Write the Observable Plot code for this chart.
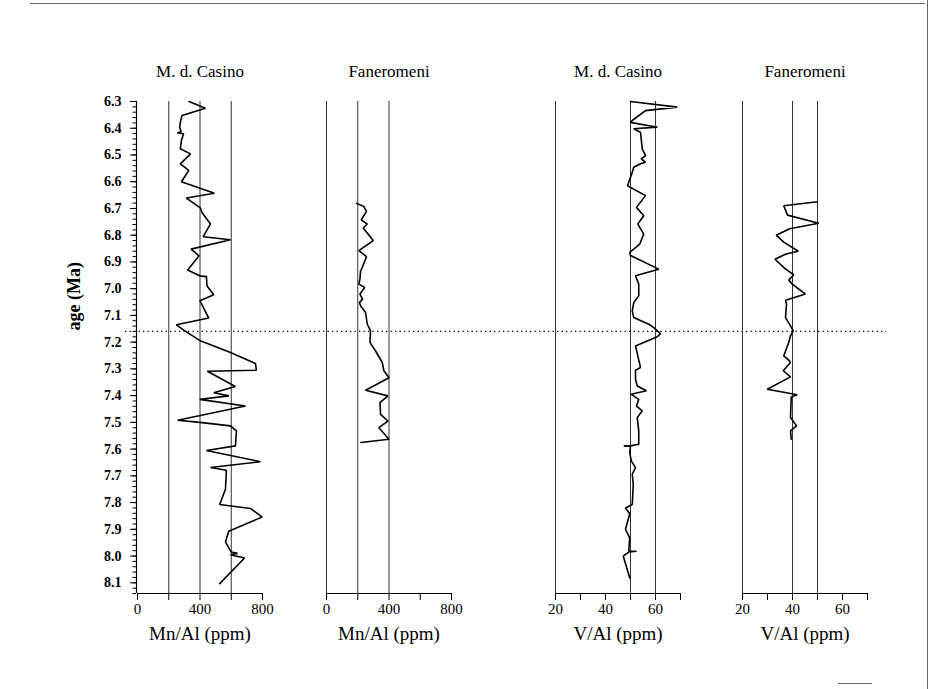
<!DOCTYPE html>
<html>
<head>
<meta charset="utf-8">
<script src="https://cdn.jsdelivr.net/npm/d3@7"></script>
<script src="https://cdn.jsdelivr.net/npm/@observablehq/plot@0.6"></script>
<style>
  body { margin: 0; background: #fff; }
  #chart { position: relative; width: 932px; height: 689px; overflow: hidden; background: #fff; }
  #chart svg { position: absolute; left: 0; top: 0; }
  #chart svg, #chart svg text { font-family: "Liberation Serif", "Times New Roman", serif !important; }
  .edge { position: absolute; background: #666; }
</style>
</head>
<body>
<div id="chart">
  <div class="edge" style="left:30px;top:3px;width:895px;height:1px;"></div>
  <div class="edge" style="left:927px;top:0;width:1px;height:689px;"></div>
  <div class="edge" style="left:838px;top:683px;width:34px;height:1px;"></div>
</div>
<script>
// ---------- data ----------
const ageDomain = [6.3, 8.14];
const ageTicks = [6.3, 6.4, 6.5, 6.6, 6.7, 6.8, 6.9, 7.0, 7.1, 7.2, 7.3, 7.4, 7.5, 7.6, 7.7, 7.8, 7.9, 8.0, 8.1];
const boundaryAge = [7.16];

const titles = ["M. d. Casino", "Faneromeni", "M. d. Casino", "Faneromeni"];
const xLabels = ["Mn/Al (ppm)", "Mn/Al (ppm)", "V/Al (ppm)", "V/Al (ppm)"];
const mnDomain = [0, 800];
const vDomain = [20, 70];
const mnTicks = [0, 200, 400, 600, 800];
const mnTickLabels = [0, 400, 800];
const vTicks = [20, 30, 40, 50, 60, 70];
const vTickLabels = [20, 40, 60];
const refLines = [[200, 400, 600], [0, 200, 400], [20, 50, 60], [20, 40, 50]];

// M. d. Casino, Mn/Al
const casinoMnAge = [6.30, 6.325, 6.352, 6.378, 6.396, 6.412, 6.418, 6.420, 6.446, 6.477, 6.496, 6.533, 6.558, 6.600, 6.643, 6.661, 6.698, 6.715, 6.758, 6.806, 6.817, 6.852, 6.877, 6.930, 6.952, 6.955, 6.990, 7.023, 7.045, 7.110, 7.135, 7.155, 7.195, 7.239, 7.280, 7.305, 7.309, 7.366, 7.389, 7.401, 7.414, 7.439, 7.492, 7.500, 7.513, 7.532, 7.588, 7.605, 7.647, 7.669, 7.679, 7.750, 7.807, 7.822, 7.854, 7.907, 7.947, 7.985, 7.990, 7.995, 8.007, 8.103];
const casinoMn =    [330, 435, 285, 274, 270, 279, 255, 295, 281, 274, 339, 274, 328, 281, 492, 313, 402, 413, 467, 420, 595, 343, 394, 321, 398, 441, 445, 488, 399, 456, 249, 296, 402, 595, 755, 761, 447, 626, 488, 585, 398, 691, 257, 398, 595, 633, 627, 441, 787, 467, 569, 563, 526, 723, 798, 584, 563, 600, 640, 595, 685, 526];

// Faneromeni, Mn/Al
const fanMnAge = [6.681, 6.693, 6.711, 6.743, 6.758, 6.773, 6.820, 6.858, 6.880, 6.920, 6.935, 6.964, 6.983, 6.995, 7.020, 7.039, 7.052, 7.064, 7.089, 7.133, 7.158, 7.201, 7.233, 7.276, 7.307, 7.333, 7.380, 7.401, 7.426, 7.470, 7.495, 7.520, 7.563, 7.575];
const fanMn =    [192, 239, 256, 222, 261, 235, 299, 207, 256, 229, 218, 214, 207, 244, 214, 231, 210, 218, 250, 261, 282, 278, 314, 357, 367, 400, 250, 393, 342, 346, 393, 335, 400, 220];

// M. d. Casino, V/Al
const casinoVAge = [6.300, 6.321, 6.334, 6.371, 6.378, 6.396, 6.402, 6.415, 6.477, 6.502, 6.515, 6.527, 6.533, 6.546, 6.565, 6.615, 6.652, 6.696, 6.727, 6.758, 6.796, 6.833, 6.864, 6.876, 6.927, 6.952, 6.983, 7.027, 7.052, 7.083, 7.108, 7.133, 7.146, 7.168, 7.180, 7.214, 7.295, 7.305, 7.339, 7.364, 7.382, 7.395, 7.414, 7.439, 7.457, 7.482, 7.532, 7.582, 7.588, 7.588, 7.590, 7.613, 7.644, 7.669, 7.694, 7.732, 7.807, 7.820, 7.842, 7.900, 7.932, 7.982, 7.982, 7.985, 8.000, 8.082];
const casinoV =    [50.0, 68.7, 56.0, 50.7, 50.0, 60.7, 51.3, 54.0, 54.7, 56.0, 54.3, 56.0, 54.0, 51.3, 50.7, 48.8, 56.0, 52.4, 55.3, 52.9, 55.3, 53.7, 49.7, 50.0, 61.3, 52.0, 53.3, 53.3, 51.3, 50.7, 51.3, 57.3, 59.3, 62.0, 60.7, 52.0, 54.0, 52.0, 52.0, 52.7, 56.4, 50.3, 53.3, 52.4, 54.7, 52.7, 53.3, 53.3, 50.0, 47.3, 50.0, 49.7, 50.3, 52.0, 50.7, 51.1, 50.7, 48.0, 49.7, 48.0, 49.7, 49.3, 52.4, 49.3, 47.1, 49.7];

// Faneromeni, V/Al
const fanVAge = [6.675, 6.690, 6.725, 6.755, 6.776, 6.800, 6.826, 6.860, 6.870, 6.890, 6.925, 6.948, 6.968, 6.983, 7.020, 7.043, 7.058, 7.108, 7.139, 7.158, 7.176, 7.201, 7.251, 7.267, 7.276, 7.307, 7.330, 7.376, 7.397, 7.405, 7.482, 7.513, 7.532, 7.563];
const fanV =    [50.0, 36.5, 38.0, 50.5, 38.8, 33.5, 36.5, 42.3, 37.4, 33.0, 37.0, 40.5, 38.5, 39.9, 45.2, 37.2, 37.6, 37.2, 39.2, 40.3, 39.2, 38.5, 36.5, 38.5, 39.2, 36.3, 39.2, 29.9, 41.9, 39.5, 39.2, 41.6, 39.2, 39.5];

// ---------- layout ----------
const W = 932, H = 689;
const frameTop = 101, frameBottom = 593;
const panelLeft = [137, 326, 555, 742];
const panelWidth = 125;
const font = "'Liberation Serif', 'Times New Roman', serif";

const series = [
  {age: casinoMnAge, value: casinoMn, domain: mnDomain, ticks: mnTicks, labels: mnTickLabels},
  {age: fanMnAge, value: fanMn, domain: mnDomain, ticks: mnTicks, labels: mnTickLabels},
  {age: casinoVAge, value: casinoV, domain: vDomain, ticks: vTicks, labels: vTickLabels},
  {age: fanVAge, value: fanV, domain: vDomain, ticks: vTicks, labels: vTickLabels}
];

const chart = document.getElementById("chart");
const yScale = {domain: ageDomain, reverse: true, axis: null};
const baseStyle = {background: "transparent", fontFamily: font, fontSize: "15px", color: "#000", overflow: "visible"};

// dotted boundary line spanning all panels
chart.appendChild(Plot.plot({
  width: W, height: H,
  marginTop: frameTop, marginBottom: H - frameBottom,
  marginLeft: 125, marginRight: W - 886,
  y: yScale,
  style: baseStyle,
  marks: [
    Plot.ruleY(boundaryAge, {stroke: "#000", strokeWidth: 1.2, strokeDasharray: "1.3,3.2"})
  ]
}));

const minorTicks = d3.range(0, 93).map(i => +(ageDomain[0] + i * 0.02).toFixed(2));

series.forEach((s, k) => {
  const data = s.age.map((a, i) => ({age: a, value: s.value[i]}));
  const marks = [
    Plot.ruleX(refLines[k], {stroke: "#333", strokeWidth: 1}),
    Plot.ruleY([ageDomain[1]], {stroke: "#000", strokeWidth: 1.2}),
    Plot.axisX({
      ticks: s.ticks,
      tickFormat: d => s.labels.includes(d) ? String(d) : "",
      tickSize: 7, tickPadding: 3, fontSize: 15, fontFamily: font, label: null
    }),
    Plot.line(data, {x: "value", y: "age", stroke: "#000", strokeWidth: 1.6, strokeLinejoin: "miter"}),
    Plot.text([titles[k]], {text: d => d, frameAnchor: "top", dy: -37, fontSize: 17, fontFamily: font}),
    Plot.text([xLabels[k]], {text: d => d, frameAnchor: "bottom", dy: 46, fontSize: 19, fontFamily: font})
  ];
  if (k === 0) {
    marks.push(
      Plot.ruleX([s.domain[0]], {stroke: "#000", strokeWidth: 1.2, dx: -1}),
      Plot.axisY({ticks: ageTicks, tickFormat: d3.format(".1f"), tickSize: 6, tickPadding: 9,
                  fontSize: 14, fontWeight: "bold", fontFamily: font, label: null, dx: -1}),
      Plot.axisY({ticks: minorTicks, tickFormat: () => "", tickSize: 3.5, label: null, dx: -1}),
      Plot.text(["age (Ma)"], {text: d => d, frameAnchor: "left", dx: -63, dy: -17,
                               rotate: -90, fontSize: 18, fontWeight: "bold", fontFamily: font})
    );
  }
  chart.appendChild(Plot.plot({
    width: W, height: H,
    marginTop: frameTop, marginBottom: H - frameBottom,
    marginLeft: panelLeft[k], marginRight: W - panelLeft[k] - panelWidth,
    x: {domain: s.domain, axis: null},
    y: yScale,
    style: baseStyle,
    marks
  }));
});
</script>
</body>
</html>
